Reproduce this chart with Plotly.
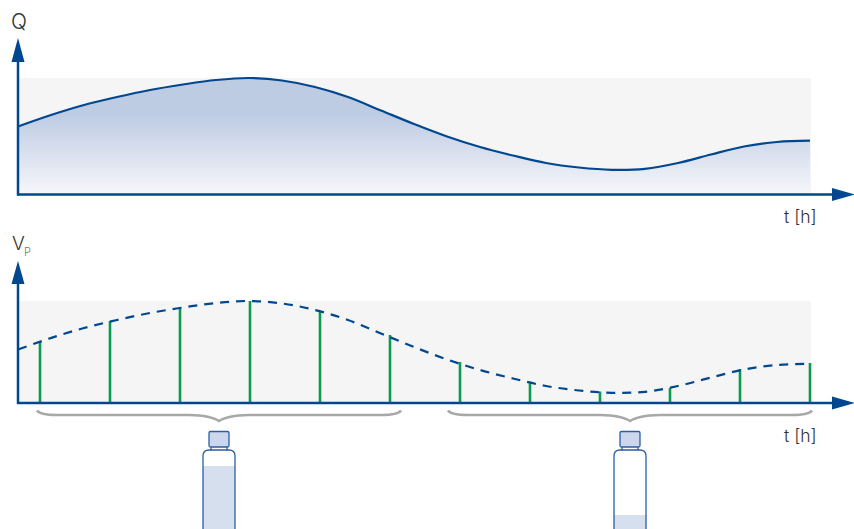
import plotly.graph_objects as go

W, H = 854, 529
BLUE = "#00478f"
GREEN = "#0a9a4e"

# Data (time in hours, values in chart units)
curve_t = [0, 0.471, 0.943, 1.414, 1.886, 2.357, 2.829, 3.3, 3.771, 4.243, 4.714, 5.186, 5.657,
           6.129, 6.6, 7.071, 7.543, 8.014, 8.486, 8.957, 9.429, 9.9, 10.371, 10.843, 11.314]
q_values = [67.5, 79, 89, 97, 104, 109.5, 114, 116, 113.5, 107, 97, 83.5, 70,
            57.5, 47, 38.5, 31, 26.5, 24.2, 25.2, 31, 39.5, 47.5, 52, 53.3]
vp_values = [53.5, 65, 75, 83, 90, 95.5, 100, 102, 99.5, 93, 83, 69.5, 56,
             43.5, 33, 24.5, 17, 12.5, 10.2, 11.2, 17, 25.5, 33.5, 38, 39.3]
sample_t = [0.314, 1.314, 2.314, 3.314, 4.314, 5.314, 6.314, 7.314, 8.314, 9.314, 10.314, 11.314]
sample_vp = [62, 82, 96, 102, 92, 68, 41, 20, 11.5, 15, 34, 40]


def px(x):
    return x / W


def py(y):
    return 1 - y / H


def path(*parts):
    out = []
    for p in parts:
        if isinstance(p, str):
            out.append(p)
        else:
            out.append(f"{px(p[0]):.5f},{py(p[1]):.5f}")
    return " ".join(out)


shapes = []


def pshape(d, fill=None, color=None, width=0, layer="above"):
    s = dict(type="path", path=d, xref="paper", yref="paper", layer=layer,
             line=dict(color=color or "rgba(0,0,0,0)", width=width))
    if fill:
        s["fillcolor"] = fill
    shapes.append(s)


def rect(x0, y0, x1, y1, fill, layer="above"):
    shapes.append(dict(type="rect", xref="paper", yref="paper", x0=px(x0), x1=px(x1),
                       y0=py(y0), y1=py(y1), fillcolor=fill, line=dict(width=0), layer=layer))


# Grey plot backgrounds
rect(18, 78, 811, 194, "#f5f5f6", "below")
rect(18, 301, 811, 403, "#f5f5f6", "below")

# Axes with arrows
for base, tip, hb in [(194.5, 38, 62), (403, 261, 284)]:
    shapes.append(dict(type="line", xref="paper", yref="paper", x0=px(18), x1=px(18),
                       y0=py(base + 1), y1=py(hb), line=dict(color=BLUE, width=2.5)))
    shapes.append(dict(type="line", xref="paper", yref="paper", x0=px(17), x1=px(833),
                       y0=py(base), y1=py(base), line=dict(color=BLUE, width=2.5)))
    pshape(path("M", (11.5, hb), "L", (18, tip), "L", (24.5, hb), "Z"), fill=BLUE)
    pshape(path("M", (832, base - 6.5), "L", (854.5, base), "L", (832, base + 6.5), "Z"), fill=BLUE)


# Braces
def brace(x0, x1):
    c = (x0 + x1) / 2
    d = path("M", (x0, 410.5), "Q", (x0 + 3, 415), (x0 + 20, 415), "L", (c - 30, 415),
             "Q", (c - 8, 415.5), (c, 421), "Q", (c + 8, 415.5), (c + 30, 415),
             "L", (x1 - 20, 415), "Q", (x1 - 3, 415), (x1, 410.5))
    pshape(d, color="#a8a8a8", width=2.6)


brace(37, 401)
brace(448, 812)


# Bottles
def rounded(x0, y0, x1, y1, r):
    return path("M", (x0 + r, y0), "L", (x1 - r, y0), "Q", (x1, y0), (x1, y0 + r),
                "L", (x1, y1 - r), "Q", (x1, y1), (x1 - r, y1),
                "L", (x0 + r, y1), "Q", (x0, y1), (x0, y1 - r),
                "L", (x0, y0 + r), "Q", (x0, y0), (x0 + r, y0), "Z")


def bottle(cx, level):
    stroke = "#2a5fa3"
    rect(cx - 16, level, cx + 16, 535, "#d5dfee")
    pshape(path("M", (cx - 8, 447), "L", (cx - 8, 450.5), "M", (cx + 8, 447), "L", (cx + 8, 450.5)),
           color=stroke, width=1.3)
    pshape(rounded(cx - 10, 431.5, cx + 10, 447, 1.5), fill="#ccd6ec", color=stroke, width=1.3)
    pshape(path("M", (cx - 16, 535), "L", (cx - 16, 456), "Q", (cx - 16, 450), (cx - 10, 450),
                "L", (cx + 10, 450), "Q", (cx + 16, 450), (cx + 16, 456), "L", (cx + 16, 535)),
           color=stroke, width=1.3)


bottle(219, 466)
bottle(630, 515)

fig = go.Figure()
fig.add_trace(go.Scatter(
    x=curve_t, y=q_values, mode="lines", xaxis="x", yaxis="y",
    line=dict(color=BLUE, width=2.2, shape="spline", smoothing=1),
    fill="tozeroy",
    fillgradient=dict(type="vertical", start=80, stop=0,
                      colorscale=[[0, "#bdcbe3"], [1, "#f6f7fa"]]),
    hoverinfo="skip", showlegend=False))
fig.add_trace(go.Bar(
    x=sample_t, y=sample_vp, width=2.6 / 70, marker=dict(color=GREEN, line=dict(width=0)),
    xaxis="x2", yaxis="y2", hoverinfo="skip", showlegend=False))
fig.add_trace(go.Scatter(
    x=curve_t, y=vp_values, mode="lines", xaxis="x2", yaxis="y2",
    line=dict(color=BLUE, width=2.2, dash="9px,7px", shape="spline", smoothing=1),
    hoverinfo="skip", showlegend=False))

xr = [-18 / 70, (W - 18) / 70]
hidden = dict(visible=False, showgrid=False, zeroline=False, fixedrange=True)


def label(x, y, text, size=18, color="#333333"):
    return dict(xref="paper", yref="paper", x=px(x), y=py(y), text=text, showarrow=False,
                xanchor="left", yanchor="middle",
                font=dict(family="Inter, Liberation Sans, sans-serif", size=size, color=color, weight=300))


fig.update_layout(
    width=W, height=H, margin=dict(l=0, r=0, t=0, b=0, pad=0), autosize=False,
    paper_bgcolor="white", plot_bgcolor="rgba(0,0,0,0)", showlegend=False,
    xaxis=dict(hidden, domain=[0, 1], range=xr, anchor="y"),
    yaxis=dict(hidden, domain=[py(194), py(0)], range=[0, 194], anchor="x"),
    xaxis2=dict(hidden, domain=[0, 1], range=xr, anchor="y2"),
    yaxis2=dict(hidden, domain=[py(403), py(221)], range=[0, 182], anchor="x2"),
    shapes=shapes,
    annotations=[
        label(9, 22, "Q", 21),
        label(10, 244, "V", 19),
        label(22, 252, "P", 11, "#777777"),
        label(782, 217, "t [h]", 17.5),
        label(782, 435, "t [h]", 17.5),
    ],
)

fig.write_html("out.html", config=dict(displayModeBar=False),
               post_script="document.body.style.margin='0';")
